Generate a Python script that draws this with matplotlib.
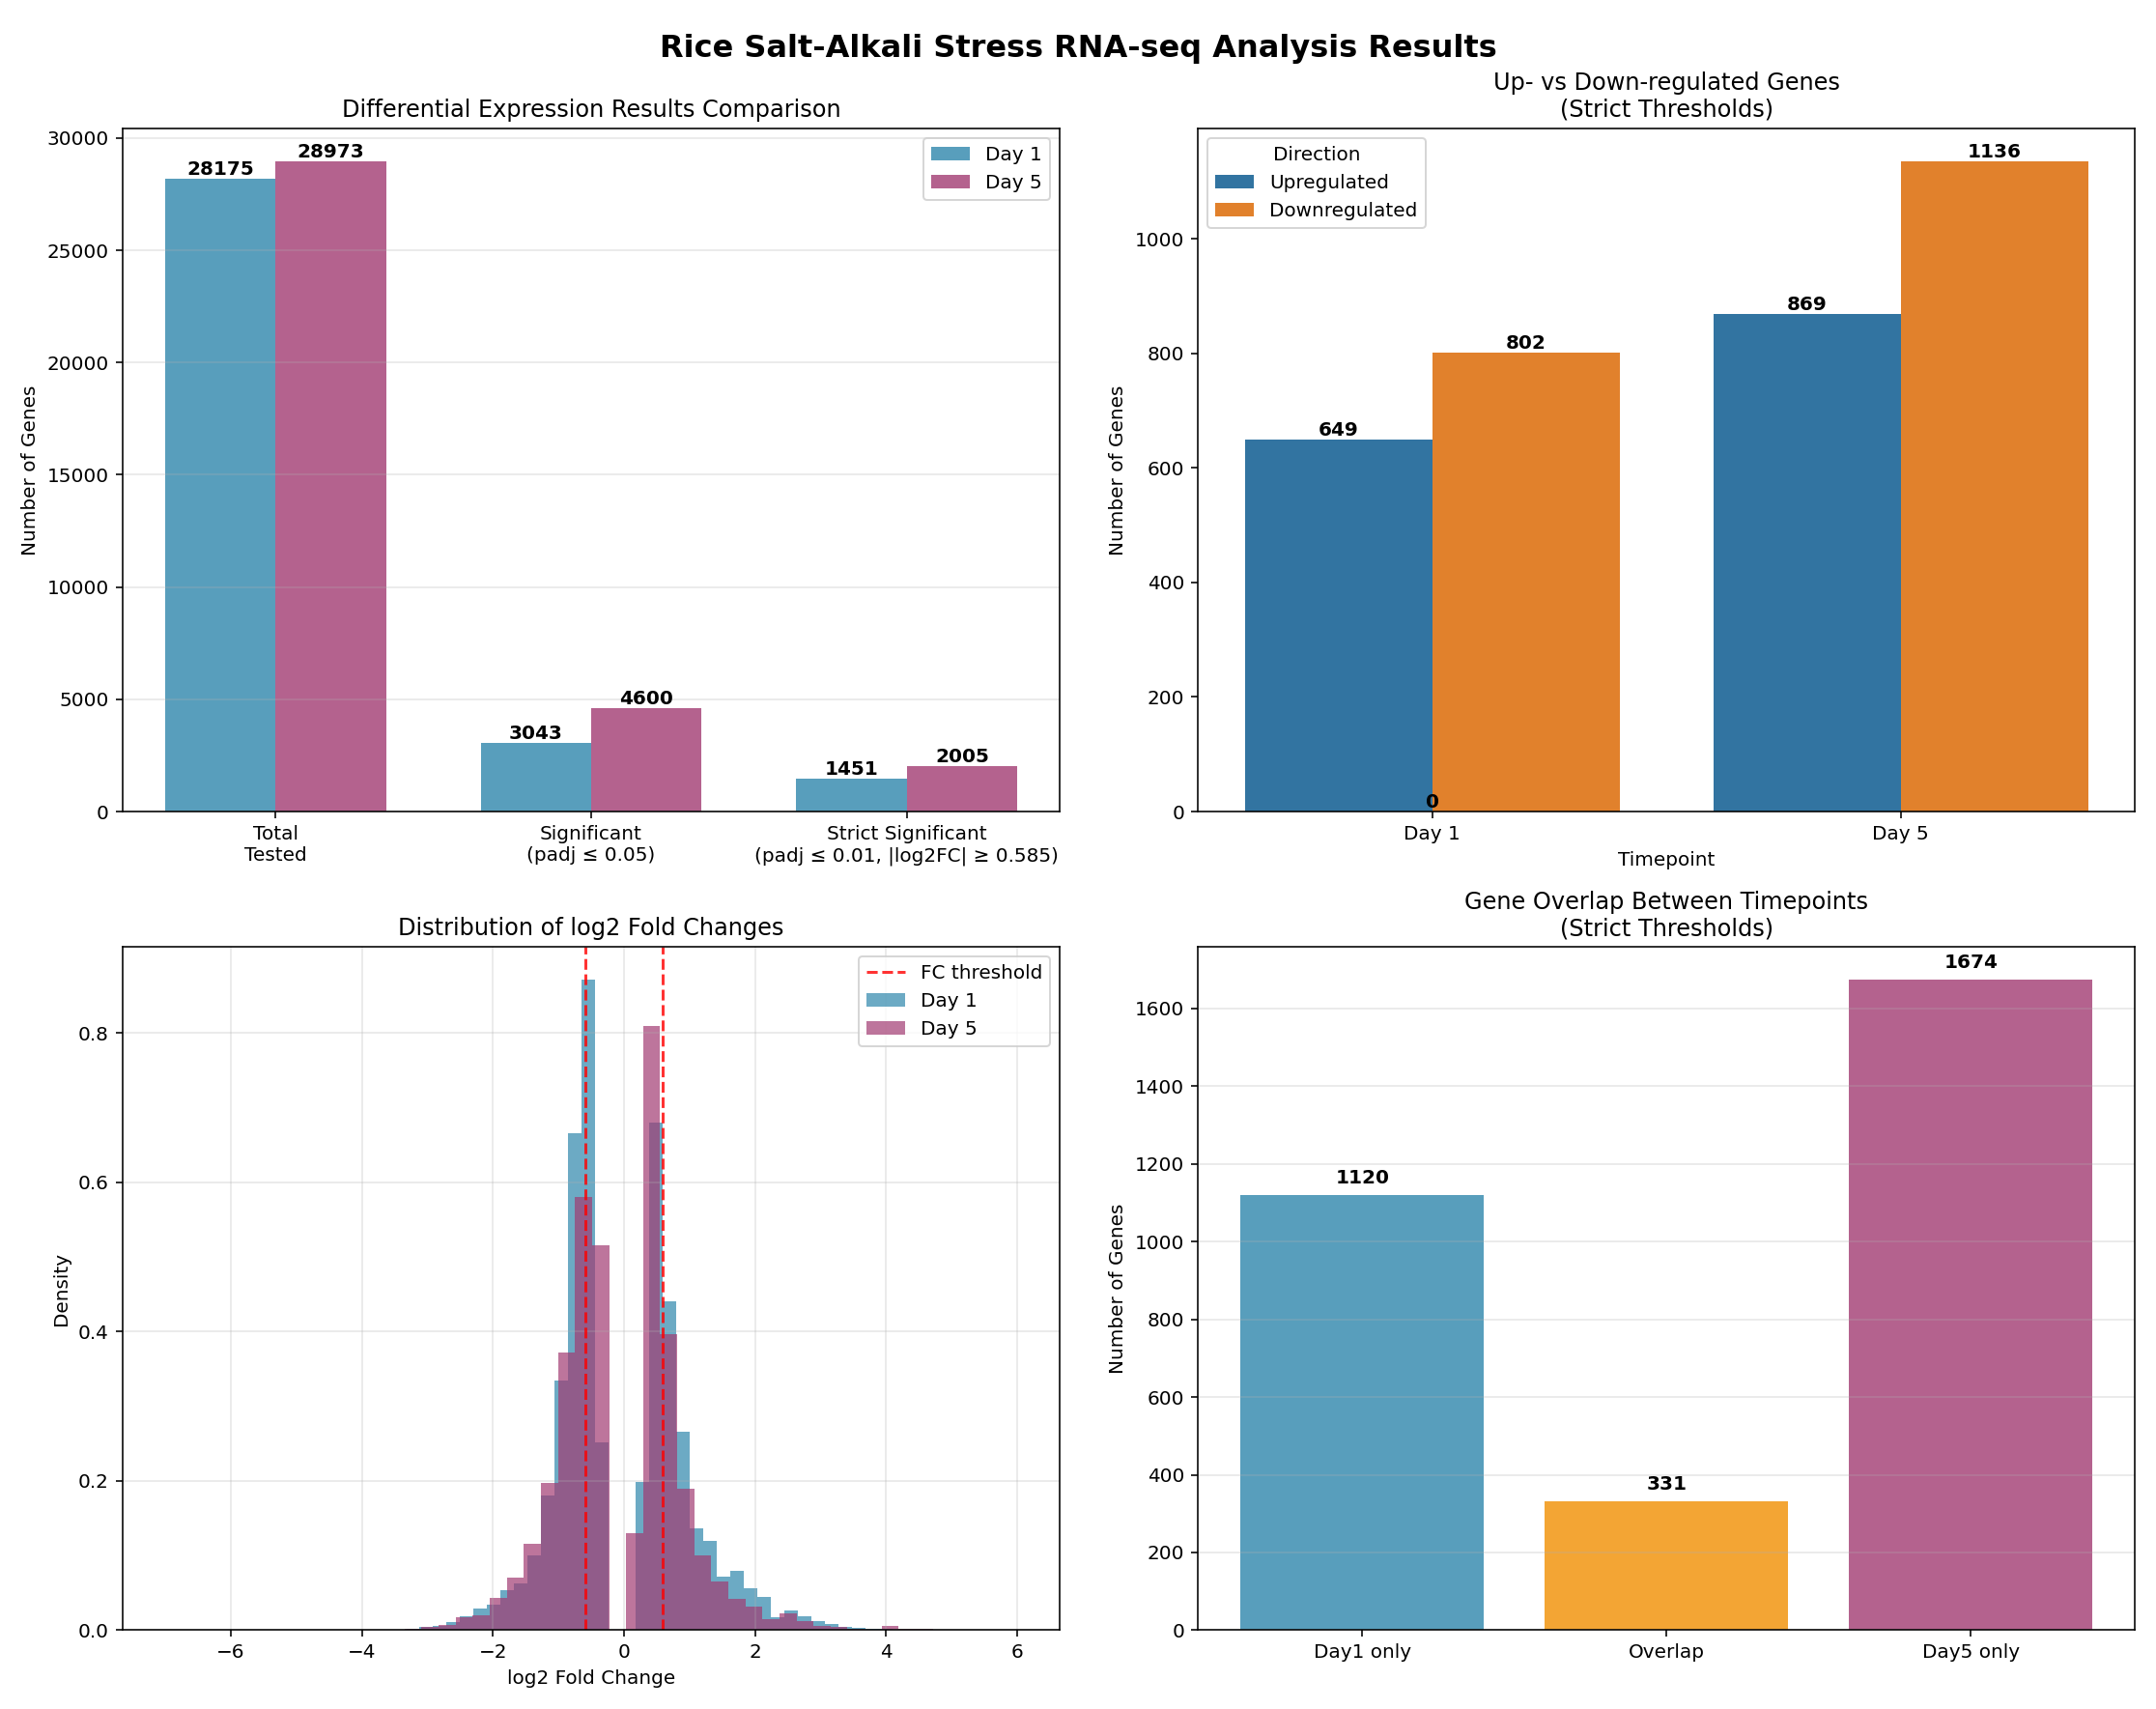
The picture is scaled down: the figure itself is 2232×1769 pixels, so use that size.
import matplotlib
matplotlib.use("Agg")
import matplotlib.pyplot as plt
import numpy as np

# data
de_categories = ["Total\nTested", "Significant\n(padj ≤ 0.05)",
                 "Strict Significant\n(padj ≤ 0.01, |log2FC| ≥ 0.585)"]
de_day1 = [28175, 3043, 1451]
de_day5 = [28973, 4600, 2005]

timepoints = ["Day 1", "Day 5"]
upregulated = [649, 869]
downregulated = [802, 1136]

overlap_labels = ["Day1 only", "Overlap", "Day5 only"]
overlap_counts = [1120, 331, 1674]

# log2FC histogram densities (bin start, width, heights)
day1_start, day1_width = -3.322, 0.206
day1_density = [0.002, 0.004, 0.006, 0.011, 0.018, 0.029, 0.034, 0.053, 0.062, 0.10,
                0.18, 0.335, 0.666, 0.872, 0.251, 0.0, 0.0, 0.198, 0.68, 0.441,
                0.266, 0.136, 0.12, 0.072, 0.08, 0.056, 0.044, 0.017, 0.027, 0.018,
                0.012, 0.008, 0.005, 0.003, 0.002, 0.002]
day5_start, day5_width = -3.347, 0.26
day5_density = [0.002, 0.004, 0.007, 0.017, 0.02, 0.043, 0.070, 0.116, 0.197, 0.372,
                0.58, 0.516, 0.0, 0.13, 0.809, 0.397, 0.19, 0.10, 0.065, 0.042,
                0.031, 0.0145, 0.022, 0.012, 0.006, 0.005, 0.002, 0.001, 0.006, 0.002,
                0.002]
fc_threshold = 0.585

BLUE = "#2E86AB"
PURPLE = "#A23B72"
ORANGE = "#F18F01"

fig, axes = plt.subplots(2, 2, figsize=(15.5, 12.285), dpi=144)
fig.suptitle("Rice Salt-Alkali Stress RNA-seq Analysis Results", fontsize=16, fontweight="bold")

# panel 1
ax = axes[0, 0]
x = np.arange(len(de_categories))
w = 0.35
b1 = ax.bar(x - w / 2, de_day1, w, label="Day 1", color=BLUE, alpha=0.8)
b2 = ax.bar(x + w / 2, de_day5, w, label="Day 5", color=PURPLE, alpha=0.8)
for bars in (b1, b2):
    for b in bars:
        ax.text(b.get_x() + b.get_width() / 2, b.get_height(), f"{int(b.get_height())}",
                ha="center", va="bottom", fontweight="bold")
ax.set_xticks(x)
ax.set_xticklabels(de_categories)
ax.set_ylabel("Number of Genes")
ax.set_title("Differential Expression Results Comparison")
ax.legend()
ax.grid(axis="y", alpha=0.3)

# panel 2
ax = axes[0, 1]
x = np.arange(len(timepoints))
w = 0.4
u = ax.bar(x - w / 2, upregulated, w, label="Upregulated", color="#3274a1")
d = ax.bar(x + w / 2, downregulated, w, label="Downregulated", color="#e1812c")
for bars in (u, d):
    for b in bars:
        ax.text(b.get_x() + b.get_width() / 2, b.get_height(), f"{int(b.get_height())}",
                ha="center", va="bottom", fontweight="bold")
ax.text(0, 0, "0", ha="center", va="bottom", fontweight="bold")
ax.set_xticks(x)
ax.set_xticklabels(timepoints)
ax.set_xlim(-0.5, 1.5)
ax.set_xlabel("Timepoint")
ax.set_ylabel("Number of Genes")
ax.set_title("Up- vs Down-regulated Genes\n(Strict Thresholds)")
ax.legend(title="Direction", loc="upper left")

# panel 3
ax = axes[1, 0]
e1 = day1_start + day1_width * np.arange(len(day1_density))
e5 = day5_start + day5_width * np.arange(len(day5_density))
ax.bar(e1, day1_density, day1_width, align="edge", color=BLUE, alpha=0.7, label="Day 1")
ax.bar(e5, day5_density, day5_width, align="edge", color=PURPLE, alpha=0.7, label="Day 5")
ax.axvline(-fc_threshold, color="red", linestyle="--", alpha=0.8, label="FC threshold")
ax.axvline(fc_threshold, color="red", linestyle="--", alpha=0.8)
ax.set_xlim(-7.65, 6.65)
ax.set_ylim(0, 0.915)
ax.set_xlabel("log2 Fold Change")
ax.set_ylabel("Density")
ax.set_title("Distribution of log2 Fold Changes")
ax.legend()
ax.grid(True, alpha=0.3)

# panel 4
ax = axes[1, 1]
bars = ax.bar(overlap_labels, overlap_counts, color=[BLUE, ORANGE, PURPLE], alpha=0.8)
for b in bars:
    ax.text(b.get_x() + b.get_width() / 2, b.get_height() + 20, f"{int(b.get_height())}",
            ha="center", va="bottom", fontweight="bold")
ax.set_ylabel("Number of Genes")
ax.set_title("Gene Overlap Between Timepoints\n(Strict Thresholds)")
ax.grid(axis="y", alpha=0.3)

plt.tight_layout()
fig.savefig("out.png", dpi=144)
